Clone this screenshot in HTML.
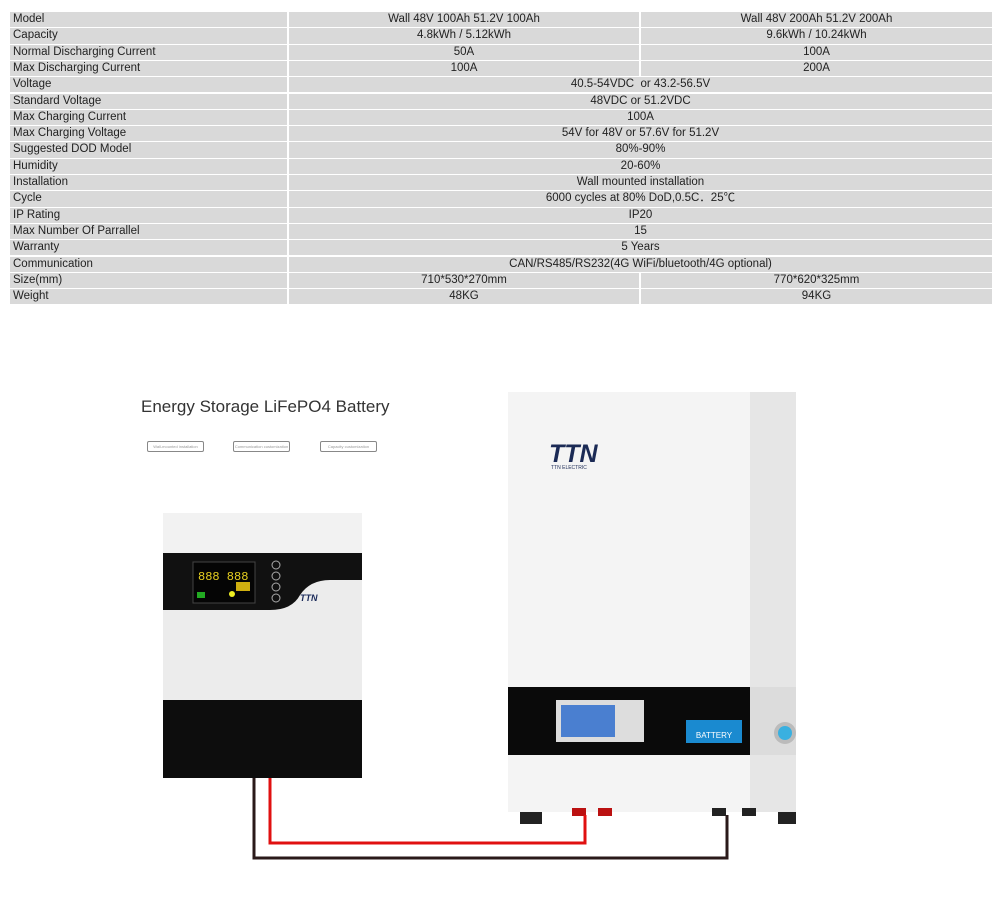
<!DOCTYPE html><html><head><style>
body{margin:0;width:1000px;height:903px;background:#fff;position:relative;font-family:"Liberation Sans",sans-serif;overflow:hidden}
.r{position:absolute;left:10px;width:982px;height:15.3px;font-size:11.5px;color:#222;line-height:15.3px}
.r div{position:absolute;top:0;height:100%;background:#d9d9d9}
.a{left:0;width:277px;padding-left:3px;box-sizing:border-box}
.b{left:279px;width:350px;text-align:center}
.c{left:631px;width:351px;text-align:center}
.bc{left:279px;width:703px;text-align:center}
.abs{position:absolute}
</style></head><body>
<div class="r" style="top:12px"><div class="a">Model</div><div class="b">Wall 48V 100Ah 51.2V 100Ah</div><div class="c">Wall 48V 200Ah 51.2V 200Ah</div></div>
<div class="r" style="top:28.3px"><div class="a">Capacity</div><div class="b">4.8kWh / 5.12kWh</div><div class="c">9.6kWh / 10.24kWh</div></div>
<div class="r" style="top:44.6px"><div class="a">Normal Discharging Current</div><div class="b">50A</div><div class="c">100A</div></div>
<div class="r" style="top:60.9px"><div class="a">Max Discharging Current</div><div class="b">100A</div><div class="c">200A</div></div>
<div class="r" style="top:77.2px"><div class="a">Voltage</div><div class="bc">40.5-54VDC &nbsp;or 43.2-56.5V</div></div>
<div class="r" style="top:93.5px"><div class="a">Standard Voltage</div><div class="bc">48VDC or 51.2VDC</div></div>
<div class="r" style="top:109.8px"><div class="a">Max Charging Current</div><div class="bc">100A</div></div>
<div class="r" style="top:126.1px"><div class="a">Max Charging Voltage</div><div class="bc">54V for 48V or 57.6V for 51.2V</div></div>
<div class="r" style="top:142.4px"><div class="a">Suggested DOD Model</div><div class="bc">80%-90%</div></div>
<div class="r" style="top:158.7px"><div class="a">Humidity</div><div class="bc">20-60%</div></div>
<div class="r" style="top:175px"><div class="a">Installation</div><div class="bc">Wall mounted installation</div></div>
<div class="r" style="top:191.3px"><div class="a">Cycle</div><div class="bc">6000 cycles at 80% DoD,0.5C．25℃</div></div>
<div class="r" style="top:207.6px"><div class="a">IP Rating</div><div class="bc">IP20</div></div>
<div class="r" style="top:223.9px"><div class="a">Max Number Of Parrallel</div><div class="bc">15</div></div>
<div class="r" style="top:240.2px"><div class="a">Warranty</div><div class="bc">5 Years</div></div>
<div class="r" style="top:256.5px"><div class="a">Communication</div><div class="bc">CAN/RS485/RS232(4G WiFi/bluetooth/4G optional)</div></div>
<div class="r" style="top:272.8px"><div class="a">Size(mm)</div><div class="b">710*530*270mm</div><div class="c">770*620*325mm</div></div>
<div class="r" style="top:289.1px"><div class="a">Weight</div><div class="b">48KG</div><div class="c">94KG</div></div>

<div class="abs" style="left:141px;top:397px;font-size:17px;color:#333">Energy Storage LiFePO4 Battery</div>
<div class="abs" style="left:147px;top:441px;width:55px;height:9px;border:1px solid #888;border-radius:2px;font-size:4px;color:#999;text-align:center;line-height:9px">Wall-mounted installation</div>
<div class="abs" style="left:233px;top:441px;width:55px;height:9px;border:1px solid #888;border-radius:2px;font-size:4px;color:#999;text-align:center;line-height:9px">Communication customization</div>
<div class="abs" style="left:320px;top:441px;width:55px;height:9px;border:1px solid #888;border-radius:2px;font-size:4px;color:#999;text-align:center;line-height:9px">Capacity customization</div>

<svg class="abs" style="left:0;top:0" width="1000" height="903">
<!-- inverter -->
<rect x="163" y="513" width="199" height="265" fill="#ececec"/>
<rect x="163" y="513" width="199" height="40" fill="#f2f2f2"/>
<path d="M163 553 H362 V580 H330 Q310 580 300 595 Q292 610 270 610 H163Z" fill="#111"/>
<rect x="163" y="700" width="199" height="78" fill="#0d0d0d"/>
<rect x="193" y="562" width="62" height="41" fill="#050505" stroke="#444"/>
<text x="198" y="580" font-size="12" fill="#e8d020" font-family="Liberation Mono">888 888</text>
<rect x="236" y="582" width="14" height="9" fill="#d0b010"/>
<rect x="197" y="592" width="8" height="6" fill="#2a2"/><circle cx="232" cy="594" r="3" fill="#ee2"/>
<circle cx="276" cy="565" r="4" fill="none" stroke="#aaa"/><circle cx="276" cy="576" r="4" fill="none" stroke="#aaa"/><circle cx="276" cy="587" r="4" fill="none" stroke="#aaa"/><circle cx="276" cy="598" r="4" fill="none" stroke="#aaa"/>
<text x="300" y="601" font-size="9" font-weight="bold" font-style="italic" fill="#1a2a5a">TTN</text>
<!-- battery -->
<rect x="508" y="392" width="288" height="420" fill="#f4f4f4"/>
<rect x="750" y="392" width="46" height="420" fill="#e6e6e6"/>
<rect x="508" y="687" width="242" height="68" fill="#0a0a0a"/>
<rect x="750" y="687" width="46" height="68" fill="#dcdcdc"/>
<text x="549" y="462" font-size="25" font-weight="bold" font-style="italic" fill="#1b2a55">TTN</text>
<text x="551" y="469" font-size="5" fill="#1b2a55">TTN ELECTRIC</text>
<rect x="556" y="700" width="88" height="42" fill="#ddd"/>
<rect x="561" y="705" width="54" height="32" fill="#4a7fd0"/>
<rect x="686" y="720" width="56" height="23" fill="#1a8ad0"/>
<text x="714" y="738" font-size="8" fill="#fff" text-anchor="middle">BATTERY</text>
<circle cx="785" cy="733" r="11" fill="#bbb"/><circle cx="785" cy="733" r="7" fill="#3ab0e0"/>
<rect x="520" y="812" width="22" height="12" fill="#222"/><rect x="572" y="808" width="14" height="8" fill="#b11"/><rect x="598" y="808" width="14" height="8" fill="#b11"/>
<rect x="712" y="808" width="14" height="8" fill="#222"/><rect x="742" y="808" width="14" height="8" fill="#222"/><rect x="778" y="812" width="18" height="12" fill="#222"/>
<!-- wires -->
<polyline points="254,778 254,858 727,858 727,815" fill="none" stroke="#2a1a1a" stroke-width="3"/>
<polyline points="270,778 270,843 585,843 585,815" fill="none" stroke="#e01010" stroke-width="3"/>
</svg>
</body></html>
